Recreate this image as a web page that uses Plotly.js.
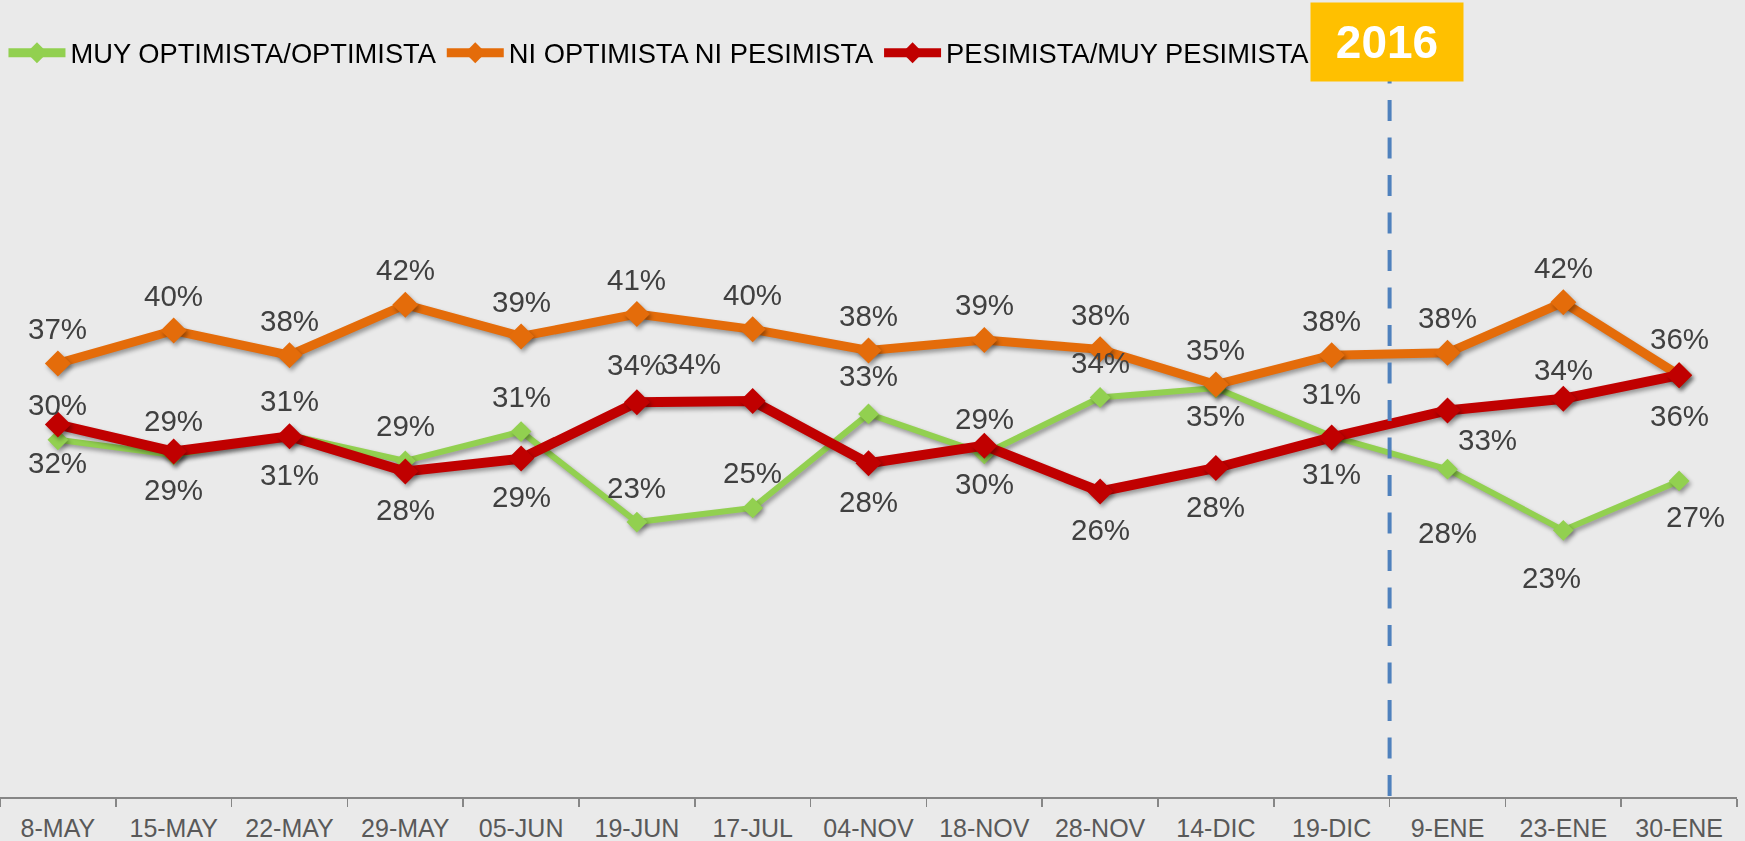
<!DOCTYPE html>
<html><head><meta charset="utf-8">
<script src="https://cdn.plot.ly/plotly-3.0.1.min.js"></script>
<style>
html,body{margin:0;padding:0;background:#EAEAEA;}
#chart{width:1745px;height:841px;}
.scatterlayer g.lines, .scatterlayer g.points{filter:drop-shadow(2px 3px 2px rgba(0,0,0,0.35));}
.legend .legendlines path{stroke-width:9px !important;}
</style></head><body><div id="chart"></div>
<script>
// ---- data ----
const categories = ['8-MAY','15-MAY','22-MAY','29-MAY','05-JUN','19-JUN','17-JUL','04-NOV','18-NOV','28-NOV','14-DIC','19-DIC','9-ENE','23-ENE','30-ENE'];
const seriesNames = ['MUY OPTIMISTA/OPTIMISTA','NI OPTIMISTA NI PESIMISTA','PESIMISTA/MUY PESIMISTA'];
const optimista = [30.4, 29.1, 30.8, 28.6, 31.1, 23.4, 24.6, 32.6, 29.2, 34.0, 34.8, 30.7, 27.9, 22.7, 26.9];
const neutral   = [36.9, 39.7, 37.6, 41.9, 39.2, 41.1, 39.8, 38.0, 38.9, 38.1, 35.1, 37.6, 37.8, 42.1, 35.9];
const pesimista = [31.7, 29.4, 30.7, 27.7, 28.8, 33.6, 33.7, 28.4, 29.9, 26.0, 28.0, 30.6, 32.9, 33.9, 35.9];
const markerLabel = '2016';
const markerBoundary = 11.5; // between 19-DIC and 9-ENE

// ---- styles ----
const FONT = 'Liberation Sans, Arial, sans-serif';
const LABEL_FONT = {family: FONT, size: 29.5, color: '#404040'};
const fmt = v => Math.round(v) + '%';
const UP = 35, DOWN = -38;

const traces = [
  {x: categories, y: optimista, name: seriesNames[0], type: 'scatter', mode: 'lines+markers',
   line: {color: '#92D050', width: 6}, marker: {symbol: 'diamond', size: 16, color: '#92D050'},
   cliponaxis: false, hoverinfo: 'skip'},
  {x: categories, y: neutral, name: seriesNames[1], type: 'scatter', mode: 'lines+markers',
   line: {color: '#E46C0A', width: 9}, marker: {symbol: 'diamond', size: 20, color: '#E46C0A'},
   cliponaxis: false, hoverinfo: 'skip'},
  {x: categories, y: pesimista, name: seriesNames[2], type: 'scatter', mode: 'lines+markers',
   line: {color: '#C00000', width: 10}, marker: {symbol: 'diamond', size: 20, color: '#C00000'},
   cliponaxis: false, hoverinfo: 'skip'}
];

// label placement per point: [dx, dy] in pixels relative to the marker
const U = [0, UP], D = [0, DOWN];
const labelPlacement = [
  {series: optimista, pos: [U,U,U,U,U,U,U,[0,38],U,U,[0,-27],[0,43],[0,-63],[-12,-47],[16,-36]]},
  {series: neutral,   pos: [U,U,U,U,U,U,U,U,U,U,U,U,U,U,[0,37]]},
  {series: pesimista, pos: [D,D,D,D,D,[0,38],[-61,38],D,D,D,D,[0,-36],[40,-29],[0,29],[0,-40]]}
];

const annotations = [];
labelPlacement.forEach(s => {
  s.series.forEach((v, i) => {
    annotations.push({
      x: categories[i], y: v, xref: 'x', yref: 'y', text: fmt(v), showarrow: false,
      xshift: s.pos[i][0], yshift: s.pos[i][1], xanchor: 'center', yanchor: 'middle',
      font: LABEL_FONT
    });
  });
});

annotations.push({
  xref: 'paper', yref: 'paper', x: 1387/1737, y: (797-42)/705,
  xanchor: 'center', yanchor: 'middle', showarrow: false,
  text: '<b>' + markerLabel + '</b>', font: {family: FONT, size: 46, color: '#FFFFFF'},
  bgcolor: '#FFC000', width: 152, height: 78, borderpad: 0, valign: 'middle'
});

const layout = {
  width: 1745, height: 841,
  paper_bgcolor: '#EAEAEA', plot_bgcolor: '#EAEAEA',
  margin: {l: 0, r: 8, t: 92, b: 44},
  font: {family: FONT},
  showlegend: true,
  legend: {
    orientation: 'h', x: 0.002, xanchor: 'left', yref: 'container', y: 1 - 53/841, yanchor: 'middle',
    font: {family: FONT, size: 27.3, color: '#000000'}, itemwidth: 57, bgcolor: 'rgba(0,0,0,0)'
  },
  xaxis: {
    type: 'category', categoryarray: categories, range: [-0.5, 14.5],
    showline: true, linecolor: '#868686', linewidth: 2,
    ticks: 'outside', tickson: 'boundaries', ticklen: 8, tickwidth: 1.5, tickcolor: '#868686',
    tickfont: {family: FONT, size: 25, color: '#595959'}, ticklabelstandoff: 8,
    showgrid: false, zeroline: false, fixedrange: true
  },
  yaxis: {range: [0, 60], visible: false, fixedrange: true},
  shapes: [{
    type: 'line', xref: 'x', yref: 'paper', x0: markerBoundary, x1: markerBoundary,
    y0: (797-62.5)/705, y1: 0, layer: 'above',
    line: {color: '#4F81BD', width: 4, dash: '21px,16.5px'}
  }],
  annotations: annotations
};

Plotly.newPlot('chart', traces, layout, {displayModeBar: false, staticPlot: true});
</script></body></html>
